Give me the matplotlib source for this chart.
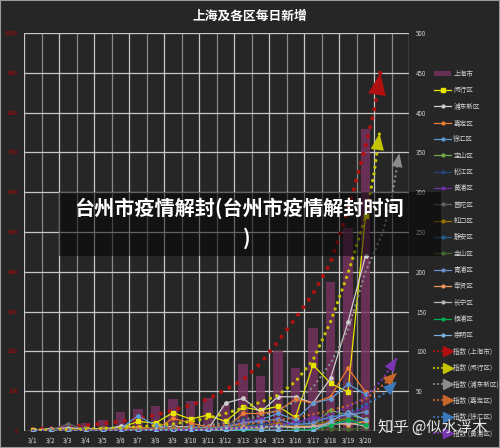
import numpy as np
import matplotlib
matplotlib.use('Agg')
from matplotlib import pyplot as plt
from matplotlib.lines import Line2D
from matplotlib.patches import Rectangle, Patch
from matplotlib.legend_handler import HandlerBase

plt.rcParams['font.family'] = ['Noto Sans CJK SC', 'DejaVu Sans']

# ---- data ----
days = ['3/1', '3/2', '3/3', '3/4', '3/5', '3/6', '3/7', '3/8', '3/9', '3/10',
        '3/11', '3/12', '3/13', '3/14', '3/15', '3/16', '3/17', '3/18', '3/19', '3/20']

shanghai = [2, 8, 16, 19, 28, 48, 55, 64, 80, 76, 83, 65, 169, 139, 202, 158, 260, 374, 509, 758]

minhang  = [1, 0, 0, 2, 3, 4, 12, 10, 23, 15, 20, 12, 30, 26, 31, 17, 83, 60, 49, 270]
pudong   = [1, 3, 4, 3, 2, 6, 4, 3, 6, 5, 2, 35, 41, 24, 43, 43, 35, 66, 137, 220]
jiading  = [0, 0, 1, 0, 1, 3, 5, 2, 16, 10, 5, 3, 22, 22, 25, 40, 35, 43, 79, 49]
xuhui    = [0, 1, 0, 1, 2, 3, 19, 7, 3, 5, 4, 6, 10, 14, 22, 14, 35, 40, 59, 46]
baoshan  = [0, 0, 0, 0, 0, 1, 2, 1, 3, 2, 1, 4, 5, 3, 6, 4, 8, 26, 20, 15]
songjiang = [0, 0, 1, 0, 1, 2, 3, 2, 4, 3, 2, 6, 15, 10, 8, 6, 5, 8, 13, 33]
huangpu  = [0, 0, 0, 1, 0, 1, 2, 1, 2, 3, 2, 3, 12, 15, 8, 10, 17, 14, 20, 30]
putuo    = [0, 1, 9, 2, 1, 3, 2, 1, 5, 2, 1, 3, 6, 5, 4, 8, 6, 10, 18, 25]
hongkou  = [0, 0, 1, 0, 2, 1, 3, 2, 4, 2, 3, 5, 8, 6, 10, 5, 9, 12, 15, 11]
jingan   = [0, 0, 0, 1, 0, 2, 1, 2, 3, 2, 2, 4, 6, 8, 5, 9, 7, 10, 12, 14]
jinshan  = [0, 0, 0, 0, 0, 0, 1, 0, 1, 0, 1, 0, 2, 1, 0, 2, 1, 3, 2, 4]
qingpu   = [0, 0, 1, 0, 1, 0, 2, 1, 3, 1, 2, 5, 10, 12, 15, 8, 10, 18, 20, 24]
fengxian = [0, 0, 0, 0, 1, 1, 2, 1, 2, 1, 1, 3, 5, 4, 7, 5, 6, 10, 8, 12]
changning = [0, 0, 0, 0, 0, 1, 1, 2, 1, 2, 1, 2, 3, 5, 6, 4, 5, 8, 10, 6]
yangpu   = [0, 0, 0, 0, 0, 0, 1, 0, 1, 0, 0, 0, 1, 0, 0, 1, 2, 7, 14, 7]
chongming = [0, 0, 0, 0, 0, 0, 0, 0, 0, 1, 0, 0, 2, 1, 1, 0, 0, 12, 24, 14]

# trend curves ("指数"), daily values plus the forecast part up to the arrow tip
trend_days_sh = list(range(20)) + [19.55, 19.85]
trend_sh = [5, 7, 10, 14, 19, 24, 31, 40, 52, 65, 80, 104, 128, 170, 225, 283, 345, 422, 555, 715, 815, 900]
trend_days_mh = list(range(20)) + [19.5, 19.8]
trend_mh = [1.0, 1.3, 1.7, 2.3, 3.0, 4.0, 5.2, 6.9, 9, 12, 16, 22, 29, 36, 45, 62, 89, 137, 198, 269, 325, 374]
trend_days_pd = list(range(20)) + [20.0, 20.5, 20.93]
trend_pd = [0.4, 0.5, 0.7, 0.9, 1.2, 1.6, 2.2, 3, 4, 5.5, 7.5, 10, 14, 19, 26, 37, 55, 85, 127, 200, 250, 293, 349]
trend_days_sm = list(range(20)) + [20.0, 20.8]
trend_jd = [0.6, 0.8, 0.9, 1.2, 1.5, 1.8, 2.3, 2.9, 3.6, 4.5, 5.6, 7, 9, 11, 13.5, 17, 21, 26, 32, 40, 58, 73]
trend_xh = [0.1, 0.2, 0.2, 0.3, 0.4, 0.5, 0.6, 0.8, 1.1, 1.5, 2.1, 2.8, 3.8, 5.1, 6.9, 9.3, 12.6, 17, 23, 33, 46, 62]
trend_hp = [0.1, 0.1, 0.15, 0.2, 0.3, 0.4, 0.5, 0.8, 1.1, 1.5, 2.1, 2.9, 4, 5.6, 8, 11, 15, 21, 30, 42, 66, 92]

# ---- styling ----
bg = '#262626'
c_bar = '#7a3362'

districts = [
    ('闵行区', minhang, '#e6e600', 's'),
    ('浦东新区', pudong, '#cfcfcf', 'o'),
    ('嘉定区', jiading, '#ed7d31', 'o'),
    ('徐汇区', xuhui, '#5b9bd5', 'o'),
    ('宝山区', baoshan, '#70ad47', 'o'),
    ('松江区', songjiang, '#264478', 'o'),
    ('黄浦区', huangpu, '#7030a0', 'o'),
    ('普陀区', putuo, '#636363', 'o'),
    ('虹口区', hongkou, '#997300', 'o'),
    ('静安区', jingan, '#255e91', 'o'),
    ('金山区', jinshan, '#43682b', 'o'),
    ('青浦区', qingpu, '#698ed0', 'o'),
    ('奉贤区', fengxian, '#f1975a', 'o'),
    ('长宁区', changning, '#b7b7b7', 'o'),
    ('杨浦区', yangpu, '#00b050', 'o'),
    ('崇明区', chongming, '#7cafdd', 'o'),
]

trends = [
    ('指数 (上海市)', trend_days_sh, trend_sh, '#b01010', 3.0, 2.2, 16, 'left'),
    ('指数 (闵行区)', trend_days_mh, trend_mh, '#c4c400', 2.4, 2.0, 12, 'right'),
    ('指数 (浦东新区)', trend_days_pd, trend_pd, '#8a8a8a', 1.8, 2.0, 10, 'right'),
    ('指数 (嘉定区)', trend_days_sm, trend_jd, '#c8652a', 1.8, 2.0, 10, 'right'),
    ('指数 (徐汇区)', trend_days_sm, trend_xh, '#3a78b8', 1.8, 2.0, 10, 'right'),
    ('指数 (黄浦区)', trend_days_sm, trend_hp, '#7a35b0', 1.8, 2.0, 10, 'right'),
]

fig = plt.figure(figsize=(5.0, 4.48), dpi=100, facecolor=bg)
ax = fig.add_axes([24.25/500, 1-431/448, (409.25-24.25)/500, (431-33)/448])
ax.set_facecolor(bg)
ax2 = ax.twinx()

idx = np.arange(len(days))

# grid
for k, xg in enumerate(np.arange(-0.5, 21.6, 1.0)):
    ax.axvline(xg, color='#c8c8c8' if k % 2 == 0 else '#8a8a8a', lw=0.9, zorder=0)
for yg in range(0, 1001, 100):
    ax.axhline(yg, color='#c8c8c8', lw=0.9, zorder=0)

ax.bar(idx, shanghai, width=0.55, color=c_bar, alpha=0.8, zorder=1)

for name, vals, col, mk in districts:
    ax2.plot(idx, vals, color=col, lw=0.9, marker=mk, ms=3.2 if mk == 's' else 2.4,
             mec=col, mfc=col, zorder=3)

for name, tx, ty, col, lw, gap, ms, side in trends:
    tax = ax if side == 'left' else ax2
    tax.plot(tx, ty, color=col, lw=lw, linestyle=(0, (0.01, gap)),
             dash_capstyle='round', zorder=4)
    tax.annotate('', xy=(tx[-1], ty[-1]), xytext=(tx[-2], ty[-2]),
                 arrowprops=dict(arrowstyle='-|>,head_length=1.0,head_width=0.4',
                                 color=col, lw=0, shrinkA=0, shrinkB=0,
                                 mutation_scale=ms), zorder=5)

ax.set_xlim(-0.5, 21.5)
ax.set_ylim(0, 1000)
ax2.set_ylim(0, 500)
ax.set_xticks(idx)
ax.set_xticklabels(days)
ax.set_yticks(range(0, 1001, 100))
ax2.set_yticks(range(0, 501, 50))
ax.tick_params(axis='x', length=0, pad=4, labelsize=4.6, colors='#e0e0e0')
ax.tick_params(axis='y', length=0, pad=4.5, labelsize=4.3, colors='#c00000')
ax2.tick_params(axis='y', length=0, pad=4.8, labelsize=4.5, colors='#d0d0d0')
for a in (ax, ax2):
    for s in a.spines.values():
        s.set_visible(False)

fig.text(250/500, 1-16/448, '上海及各区每日新增', color='white', fontsize=9.2,
         fontweight='bold', ha='center', va='center')


# legend
class ArrowHandler(HandlerBase):
    def create_artists(self, legend, orig, xdescent, ydescent, width, height, fontsize, trans):
        y = height / 2 - ydescent
        ln = Line2D([-xdescent, -xdescent + width * 0.55], [y, y], color=orig.get_color(),
                    lw=1.6, linestyle=(0, (0.01, 1.8)), dash_capstyle='round', transform=trans)
        mk = Line2D([-xdescent + width * 0.8], [y], marker='>', ms=6.5, color=orig.get_color(),
                    lw=0, transform=trans)
        return [ln, mk]


handles = [Patch(facecolor=c_bar, alpha=0.8)]
labels = ['上海市']
for name, vals, col, mk in districts:
    handles.append(Line2D([], [], color=col, lw=0.9, marker=mk, ms=2.8 if mk == 's' else 2.0))
    labels.append(name)
hmap = {}
for name, tx, ty, col, lw, gap, ms, side in trends:
    h = Line2D([], [], color=col)
    handles.append(h)
    labels.append(name)
    hmap[h] = ArrowHandler()

leg = fig.legend(handles, labels, loc='upper left', bbox_to_anchor=(434/500, 1-70/448),
                 frameon=False, fontsize=4.8, labelcolor='#d0d0d0', handlelength=2.6,
                 handleheight=0.7, handletextpad=0.3, labelspacing=1.25, borderpad=0,
                 borderaxespad=0, handler_map=hmap)

# banner overlay
fig.patches.append(Rectangle((59/500, 1-256/448), 382/500, 64/448, transform=fig.transFigure,
                             facecolor='black', alpha=0.5, lw=0, zorder=10))
fig.text(239/500, 1-208/448, '台州市疫情解封(台州市疫情解封时间', color='white', fontsize=14.5,
         fontweight='bold', ha='center', va='center', zorder=11)
fig.text(247/500, 1-238/448, ')', color='white', fontsize=14.5,
         fontweight='bold', ha='center', va='center', zorder=11)

# watermark
fig.text(433/500, 1-427/448, '知乎 @似水浮木', color='white', alpha=0.9, fontsize=11,
         ha='center', va='center', zorder=11)

# outer frame
fig.patches.append(Rectangle((0, 0), 1, 1, transform=fig.transFigure, fill=False,
                             edgecolor='#9a9a9a', lw=1.5, zorder=12))

fig.savefig('out.png', dpi=100, facecolor=bg)
